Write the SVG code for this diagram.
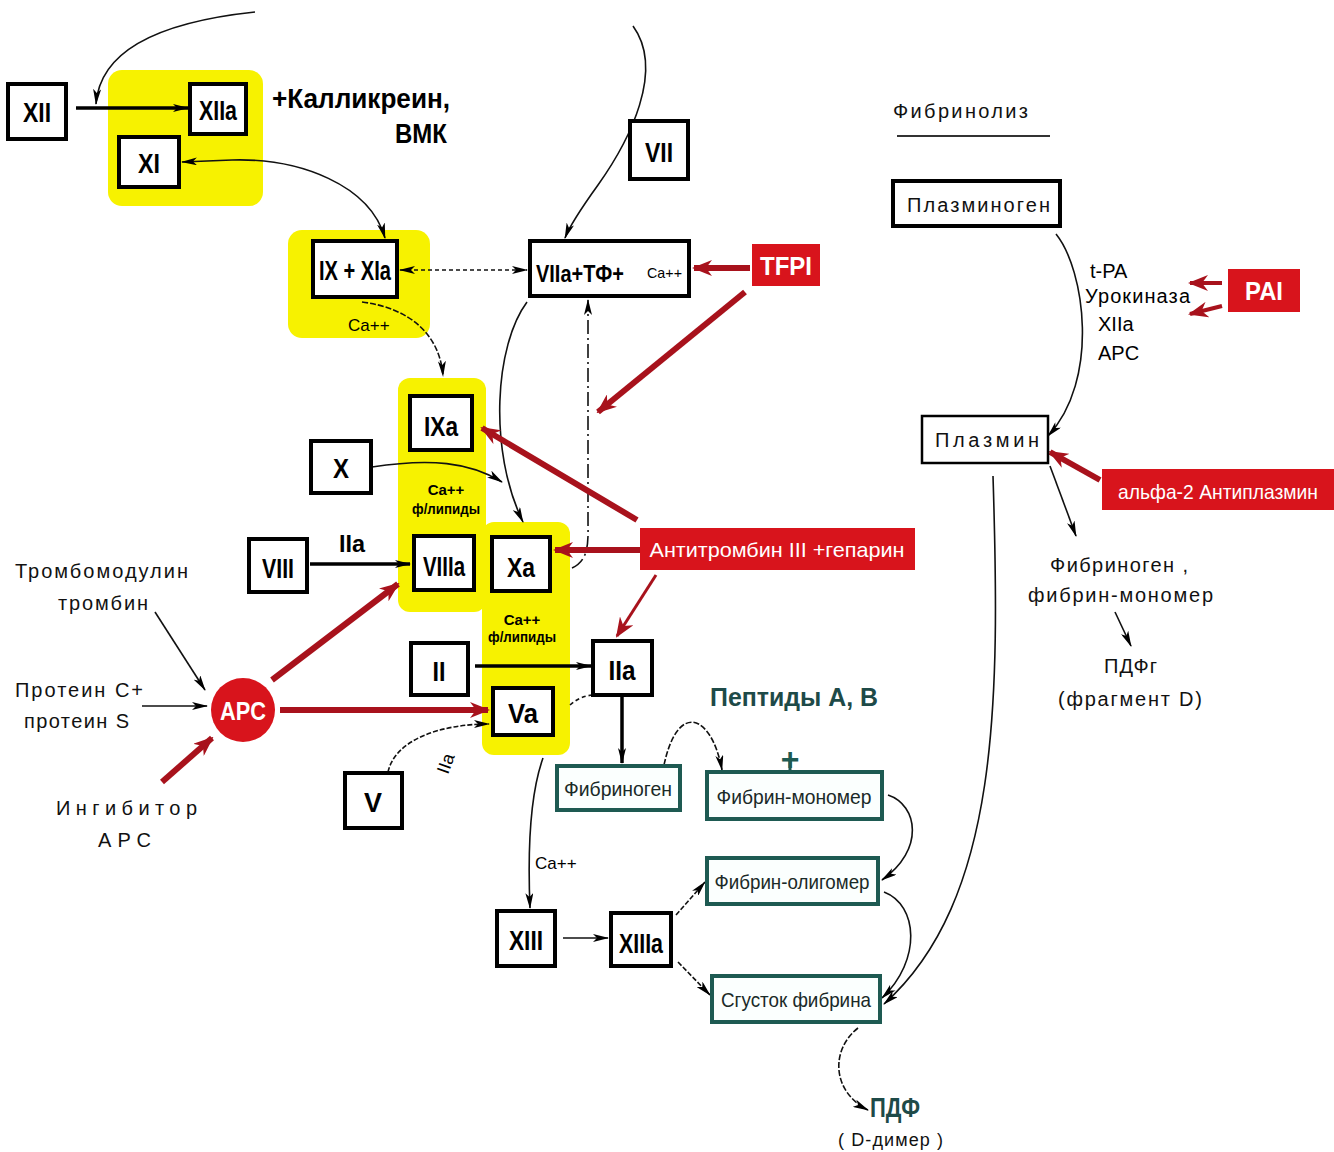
<svg xmlns="http://www.w3.org/2000/svg" width="1334" height="1152" viewBox="0 0 1334 1152">
<style>
.bx{fill:#fff;stroke:#000;stroke-width:4}
.yl{fill:#f7f200}
.rd{fill:#d8141c}
.tl{fill:#fbfffe;stroke:#1e5a52;stroke-width:4}
.lab{font-family:"Liberation Sans Narrow","Liberation Sans",sans-serif;font-weight:bold;font-size:28px;fill:#000;text-anchor:middle}
.wl{font-family:"Liberation Sans Narrow","Liberation Sans",sans-serif;font-weight:bold;font-size:26px;fill:#fff;text-anchor:middle}
.sm{font-family:"Liberation Sans Narrow","Liberation Sans",sans-serif;font-size:17px;fill:#000}
.sp{font-family:"Liberation Sans","DejaVu Sans",sans-serif;font-size:20px;fill:#111;letter-spacing:2px}
.tt{font-family:"Liberation Sans Narrow","Liberation Sans",sans-serif;font-size:21px;fill:#1a2a28;text-anchor:middle}
.ln{fill:none;stroke:#111;stroke-width:1.6}
.th{fill:none;stroke:#000;stroke-width:3.5}
.rl{fill:none;stroke:#a8121c;stroke-width:6}
</style>
<defs>
<marker id="ah" viewBox="0 0 16 8" refX="15" refY="4" markerWidth="16" markerHeight="8" orient="auto-start-reverse" markerUnits="userSpaceOnUse"><path d="M0,0 L16,4 L0,8 L4,4z" fill="#000"/></marker>
<marker id="rh" viewBox="0 0 20 16" refX="18" refY="8" markerWidth="20" markerHeight="16" orient="auto" markerUnits="userSpaceOnUse"><path d="M0,0 L20,8 L0,16 L6,8z" fill="#a8121c"/></marker>
</defs>

<g id="yellow-areas">
<rect class="yl" x="108" y="70" width="155" height="136" rx="14"/>
<rect class="yl" x="288" y="230" width="142" height="108" rx="14"/>
<rect class="yl" x="398" y="378" width="88" height="234" rx="12"/>
<rect class="yl" x="482" y="522" width="88" height="233" rx="12"/>
</g>

<g id="connectors">
<path class="ln" d="M255 12 C160 22 100 50 96 104" marker-end="url(#ah)"/>
<path class="th" d="M76 108 L188 108" marker-end="url(#ah)"/>
<path class="ln" d="M182 162 L232 160 C300 158 370 185 385 238" marker-start="url(#ah)" marker-end="url(#ah)"/>
<path class="ln" d="M633 26 C665 70 630 140 598 185 C580 210 570 225 565 238" marker-end="url(#ah)"/>
<path class="ln" d="M400 270 L527 270" stroke-dasharray="4 3" marker-start="url(#ah)" marker-end="url(#ah)"/>
<path class="ln" d="M362 302 C410 308 440 335 443 376" stroke-dasharray="6 2" marker-end="url(#ah)"/>
<path class="ln" d="M527 302 C495 345 488 450 523 522" marker-end="url(#ah)"/>
<path class="ln" d="M572 568 C590 560 588 540 588 520 L588 300" stroke-dasharray="14 4 2 4" marker-end="url(#ah)"/>
<path class="ln" d="M372 467 C430 458 470 462 502 482" marker-end="url(#ah)"/>
<path class="th" d="M310 564 L410 564" marker-end="url(#ah)"/>
<path class="ln" d="M155 612 L205 690" marker-end="url(#ah)"/>
<path class="ln" d="M142 706 L207 706" marker-end="url(#ah)"/>
<path class="ln" d="M388 772 C395 740 440 724 489 724" stroke-dasharray="5 2" marker-end="url(#ah)"/>
<path class="th" d="M475 666 L591 666" marker-end="url(#ah)"/>
<path class="th" d="M622 697 L622 763" marker-end="url(#ah)"/>
<path class="ln" d="M570 705 C578 698 585 696 592 695" stroke-dasharray="4 3"/>
<path class="ln" d="M543 758 C528 800 528 860 530 908" marker-end="url(#ah)"/>
<path class="ln" d="M664 765 C678 700 712 715 722 770" stroke-dasharray="6 2" marker-end="url(#ah)"/>
<path class="ln" d="M790 758 L790 772" style="stroke:#1e5a52;stroke-width:3"/>
<path class="ln" d="M888 795 C918 805 925 850 882 880" marker-end="url(#ah)"/>
<path class="ln" d="M884 892 C918 905 922 960 882 998" marker-end="url(#ah)"/>
<path class="ln" d="M993 476 C1000 700 1000 900 884 1004" marker-end="url(#ah)"/>
<path class="ln" d="M563 938 L608 938" marker-end="url(#ah)"/>
<path class="ln" d="M676 915 L705 882" stroke-dasharray="5 2" marker-end="url(#ah)"/>
<path class="ln" d="M678 962 L710 995" stroke-dasharray="5 2" marker-end="url(#ah)"/>
<path class="ln" d="M858 1028 C830 1050 832 1092 868 1110" stroke-dasharray="6 2" marker-end="url(#ah)"/>
<path class="ln" d="M1056 234 C1085 270 1100 380 1048 436" marker-end="url(#ah)"/>
<path class="ln" d="M1050 466 L1076 536" marker-end="url(#ah)"/>
<path class="ln" d="M1115 612 L1131 646" marker-end="url(#ah)"/>
<path class="rl" d="M750 268 L694 268" marker-end="url(#rh)"/>
<path class="rl" d="M745 292 L598 412" marker-end="url(#rh)"/>
<path class="rl" d="M637 520 L482 428" marker-end="url(#rh)"/>
<path class="rl" d="M640 550 L555 550" marker-end="url(#rh)"/>
<path class="rl" d="M656 575 L617 636" style="stroke-width:3" marker-end="url(#rh)"/>
<path class="rl" d="M272 680 L398 584" marker-end="url(#rh)"/>
<path class="rl" d="M280 710 L488 710" marker-end="url(#rh)"/>
<path class="rl" d="M162 782 L212 738" marker-end="url(#rh)"/>
<path class="rl" d="M1222 283 L1190 283" style="stroke-width:4" marker-end="url(#rh)"/>
<path class="rl" d="M1222 306 L1190 314" style="stroke-width:4" marker-end="url(#rh)"/>
<path class="rl" d="M1100 480 L1050 452" marker-end="url(#rh)"/>
</g>

<g id="XII"><rect class="bx" x="8" y="84" width="58" height="55"/><text class="lab" x="37" y="122" textLength="28" lengthAdjust="spacingAndGlyphs">XII</text></g>
<g id="XIIa"><rect class="bx" x="190" y="84" width="56" height="50"/><text class="lab" x="218" y="120" textLength="38" lengthAdjust="spacingAndGlyphs">XIIa</text></g>
<g id="XI"><rect class="bx" x="119" y="137" width="60" height="50"/><text class="lab" x="149" y="173" textLength="22" lengthAdjust="spacingAndGlyphs">XI</text></g>
<g id="kallikrein"><text class="lab" x="272" y="108" style="text-anchor:start;font-size:27px" textLength="178" lengthAdjust="spacingAndGlyphs">+Калликреин,</text><text class="lab" x="447" y="143" style="text-anchor:end;font-size:27px" textLength="52" lengthAdjust="spacingAndGlyphs">ВМК</text></g>
<g id="IX-XIa"><rect class="bx" x="313" y="241" width="84" height="56"/><text class="lab" x="355" y="280" textLength="72" lengthAdjust="spacingAndGlyphs">IX + XIa</text><text class="sm" x="348" y="331">Ca++</text></g>
<g id="VII"><rect class="bx" x="630" y="121" width="58" height="58"/><text class="lab" x="659" y="162" textLength="28" lengthAdjust="spacingAndGlyphs">VII</text></g>
<g id="VIIa-TF"><rect class="bx" x="530" y="241" width="159" height="55"/><text class="lab" x="536" y="282" style="text-anchor:start;font-size:24px" textLength="88" lengthAdjust="spacingAndGlyphs">VIIa+TФ+</text><text class="sm" x="647" y="278" style="font-size:15px" textLength="35" lengthAdjust="spacingAndGlyphs">Ca++</text></g>
<g id="TFPI"><rect class="rd" x="752" y="244" width="68" height="42"/><text class="wl" x="786" y="275" textLength="52" lengthAdjust="spacingAndGlyphs">TFPI</text></g>
<g id="IXa"><rect class="bx" x="410" y="396" width="62" height="54"/><text class="lab" x="441" y="436" textLength="34" lengthAdjust="spacingAndGlyphs">IXa</text></g>
<g id="X"><rect class="bx" x="311" y="441" width="60" height="52"/><text class="lab" x="341" y="478" textLength="16" lengthAdjust="spacingAndGlyphs">X</text></g>
<g id="lip1"><text class="sm" x="446" y="495" style="text-anchor:middle;font-weight:bold;font-size:15px">Ca++</text><text class="sm" x="446" y="514" style="text-anchor:middle;font-weight:bold;font-size:15px" textLength="68" lengthAdjust="spacingAndGlyphs">ф/липиды</text></g>
<g id="VIIIa"><rect class="bx" x="414" y="536" width="60" height="54"/><text class="lab" x="444" y="576" textLength="42" lengthAdjust="spacingAndGlyphs">VIIIa</text></g>
<g id="VIII"><rect class="bx" x="249" y="539" width="58" height="53"/><text class="lab" x="278" y="578" textLength="32" lengthAdjust="spacingAndGlyphs">VIII</text><text class="lab" x="352" y="552" style="font-size:24px" textLength="26" lengthAdjust="spacingAndGlyphs">IIa</text></g>
<g id="Xa"><rect class="bx" x="492" y="537" width="58" height="54"/><text class="lab" x="521" y="577" textLength="28" lengthAdjust="spacingAndGlyphs">Xa</text></g>
<g id="lip2"><text class="sm" x="522" y="625" style="text-anchor:middle;font-weight:bold;font-size:15px">Ca++</text><text class="sm" x="522" y="642" style="text-anchor:middle;font-weight:bold;font-size:15px" textLength="68" lengthAdjust="spacingAndGlyphs">ф/липиды</text></g>
<g id="Va"><rect class="bx" x="493" y="688" width="60" height="47"/><text class="lab" x="523" y="723" textLength="30" lengthAdjust="spacingAndGlyphs">Va</text></g>
<g id="II"><rect class="bx" x="411" y="643" width="57" height="52"/><text class="lab" x="439" y="681" textLength="13" lengthAdjust="spacingAndGlyphs">II</text></g>
<g id="IIa"><rect class="bx" x="593" y="641" width="59" height="54"/><text class="lab" x="622" y="680" textLength="27" lengthAdjust="spacingAndGlyphs">IIa</text></g>
<g id="antithrombin"><rect class="rd" x="640" y="528" width="275" height="42"/><text class="wl" x="777" y="557" style="font-weight:normal;font-size:21px" textLength="255" lengthAdjust="spacingAndGlyphs">Антитромбин III +гепарин</text></g>
<g id="APC"><circle cx="243" cy="710" r="32" fill="#d8141c"/><text class="wl" x="243" y="720" textLength="46" lengthAdjust="spacingAndGlyphs">APC</text></g>
<g id="V"><rect class="bx" x="345" y="773" width="57" height="55"/><text class="lab" x="373" y="812" textLength="18" lengthAdjust="spacingAndGlyphs">V</text><text class="sm" x="0" y="0" transform="translate(448,775) rotate(-70)" style="font-size:18px">IIa</text></g>
<g id="left-labels">
<text class="sp" x="15" y="578" textLength="175">Тромбомодулин</text>
<text class="sp" x="58" y="610" textLength="92">тромбин</text>
<text class="sp" x="15" y="697" textLength="130">Протеин С+</text>
<text class="sp" x="24" y="728" textLength="107">протеин S</text>
<text class="sp" x="56" y="815" textLength="143">Ингибитор</text>
<text class="sp" x="98" y="847" textLength="55">АРС</text>
</g>
<g id="fibrinogen"><rect class="tl" x="557" y="766" width="123" height="44"/><text class="tt" x="618" y="796" textLength="108" lengthAdjust="spacingAndGlyphs">Фибриноген</text></g>
<g id="peptides"><text class="lab" x="710" y="706" style="text-anchor:start;font-size:26px;fill:#1e4a48" textLength="168" lengthAdjust="spacingAndGlyphs">Пептиды А, В</text><text class="lab" x="790" y="770" style="fill:#1e5a52;font-size:32px">+</text></g>
<g id="fibrin-monomer"><rect class="tl" x="707" y="772" width="175" height="47"/><text class="tt" x="794" y="804" textLength="155" lengthAdjust="spacingAndGlyphs">Фибрин-мономер</text></g>
<g id="fibrin-oligomer"><rect class="tl" x="707" y="858" width="171" height="46"/><text class="tt" x="792" y="889" textLength="155" lengthAdjust="spacingAndGlyphs">Фибрин-олигомер</text></g>
<g id="clot"><rect class="tl" x="712" y="976" width="168" height="46"/><text class="tt" x="796" y="1007" textLength="150" lengthAdjust="spacingAndGlyphs">Сгусток фибрина</text></g>
<g id="XIII"><rect class="bx" x="497" y="911" width="58" height="55"/><text class="lab" x="526" y="950" textLength="34" lengthAdjust="spacingAndGlyphs">XIII</text><text class="sm" x="535" y="869">Ca++</text></g>
<g id="XIIIa"><rect class="bx" x="611" y="913" width="60" height="53"/><text class="lab" x="641" y="953" textLength="44" lengthAdjust="spacingAndGlyphs">XIIIa</text></g>
<g id="PDF"><text class="lab" x="870" y="1117" style="text-anchor:start;fill:#1e4a48" textLength="50" lengthAdjust="spacingAndGlyphs">ПДФ</text><text class="sp" x="838" y="1146" style="font-size:18px" textLength="107">( D-димер )</text></g>
<g id="fibrinolysis"><text class="sp" x="893" y="118" textLength="137">Фибринолиз</text><line x1="897" y1="136" x2="1050" y2="136" stroke="#333" stroke-width="2"/></g>
<g id="plasminogen"><rect class="bx" x="893" y="181" width="167" height="45"/><text class="sp" x="907" y="212" textLength="145">Плазминоген</text></g>
<g id="activators">
<text class="sm" x="1090" y="278" style="font-size:20px">t-PA</text>
<text class="sm" x="1085" y="303" style="font-size:20px" textLength="105">Урокиназа</text>
<text class="sm" x="1098" y="331" style="font-size:20px">XIIa</text>
<text class="sm" x="1098" y="360" style="font-size:20px">APC</text>
</g>
<g id="PAI"><rect class="rd" x="1228" y="269" width="72" height="43"/><text class="wl" x="1264" y="300" textLength="38" lengthAdjust="spacingAndGlyphs">PAI</text></g>
<g id="plasmin"><rect class="bx" x="922" y="416" width="126" height="47" style="stroke-width:2.5"/><text class="sp" x="935" y="447" textLength="106">Плазмин</text></g>
<g id="antiplasmin"><rect class="rd" x="1102" y="469" width="232" height="41"/><text class="wl" x="1118" y="499" style="text-anchor:start;font-weight:normal;font-size:21px" textLength="200" lengthAdjust="spacingAndGlyphs">альфа-2 Антиплазмин</text></g>
<g id="fibrinogen-products">
<text class="sp" x="1050" y="572" textLength="140">Фибриноген ,</text>
<text class="sp" x="1028" y="602" textLength="187">фибрин-мономер</text>
<text class="sp" x="1104" y="673" textLength="55">ПДФг</text>
<text class="sp" x="1058" y="706" textLength="146">(фрагмент D)</text>
</g>
</svg>
